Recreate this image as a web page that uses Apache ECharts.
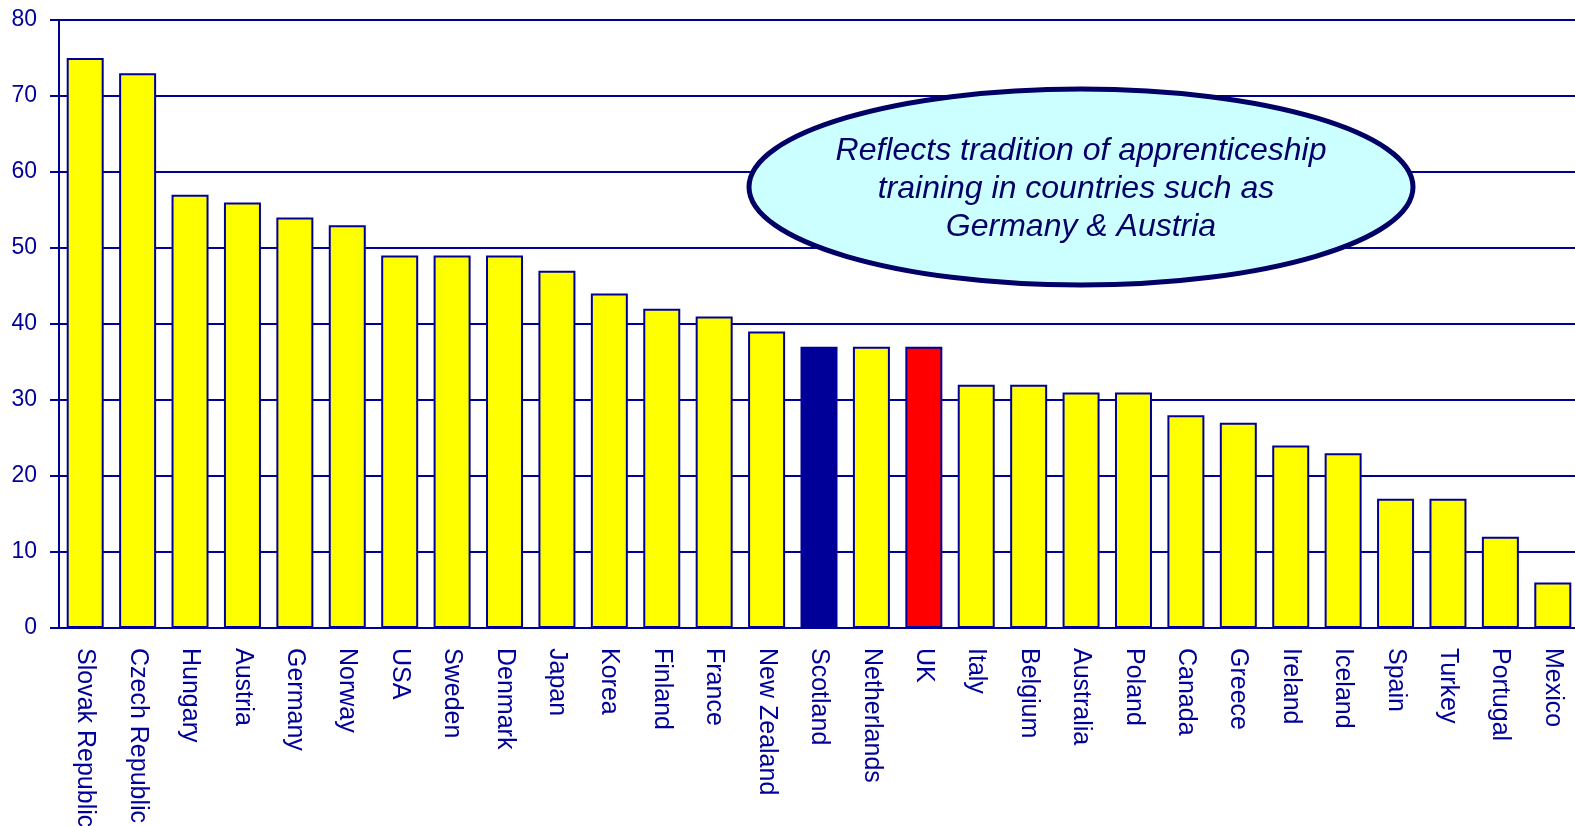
<!DOCTYPE html>
<html>
<head>
<meta charset="utf-8">
<script src="https://cdn.jsdelivr.net/npm/echarts@6/dist/echarts.min.js"></script>
<style>
html,body{margin:0;padding:0;background:#fff;}
#chart{width:1575px;height:826px;}
</style>
</head>
<body>
<div id="chart"></div>
<script>
const categories = ["Slovak Republic","Czech Republic","Hungary","Austria","Germany","Norway","USA","Sweden","Denmark","Japan","Korea","Finland","France","New Zealand","Scotland","Netherlands","UK","Italy","Belgium","Australia","Poland","Canada","Greece","Ireland","Iceland","Spain","Turkey","Portugal","Mexico"];
const values = [75,73,57,56,54,53,49,49,49,47,44,42,41,39,37,37,37,32,32,31,31,28,27,24,23,17,17,12,6];
const highlight = {"Scotland":"#000099","UK":"#FF0000"};
const yTicks = {min:0, max:80, interval:10};
const noteLines = ["Reflects tradition of apprenticeship","training in countries such as","Germany & Austria"];

const navy = '#000099';
const font = '"Liberation Sans", Arial, sans-serif';

const chart = echarts.init(document.getElementById('chart'));
chart.setOption({
  animation:false,
  backgroundColor:'#ffffff',
  grid:{left:59, top:20, width:1520, height:608, containLabel:false, outerBoundsMode:'none'},
  xAxis:{
    type:'category',
    data:categories,
    axisLine:{lineStyle:{color:navy,width:2}},
    axisTick:{show:false},
    axisLabel:{interval:0, rotate:-90, margin:20, color:navy, fontSize:25, fontFamily:font},
    splitLine:{show:false}
  },
  yAxis:{
    type:'value',
    min:yTicks.min, max:yTicks.max, interval:yTicks.interval,
    axisLine:{show:true, lineStyle:{color:navy,width:2}},
    axisTick:{show:true, length:9, lineStyle:{color:navy,width:2}},
    axisLabel:{color:navy, fontSize:23, fontFamily:font, margin:22},
    splitLine:{show:true, lineStyle:{color:navy,width:2}}
  },
  series:[{
    type:'bar',
    barWidth:37,
    data:values.map((v,i)=>({value:v, itemStyle:{color:highlight[categories[i]]||'#FFFF00'}})),
    itemStyle:{borderColor:navy, borderWidth:2}
  }],
  graphic:[
    {type:'ellipse', shape:{cx:1081, cy:187, rx:332, ry:98}, style:{fill:'#CCFFFF', stroke:'#000066', lineWidth:5}, z:100},
    {type:'text', x:1081, y:151, style:{text:noteLines[0], font:'italic 32px '+font, fill:'#000066', textAlign:'center', textVerticalAlign:'middle'}, z:101},
    {type:'text', x:1076, y:189, style:{text:noteLines[1], font:'italic 32px '+font, fill:'#000066', textAlign:'center', textVerticalAlign:'middle'}, z:101},
    {type:'text', x:1081, y:227, style:{text:noteLines[2], font:'italic 32px '+font, fill:'#000066', textAlign:'center', textVerticalAlign:'middle'}, z:101}
  ]
});
</script>
</body>
</html>
